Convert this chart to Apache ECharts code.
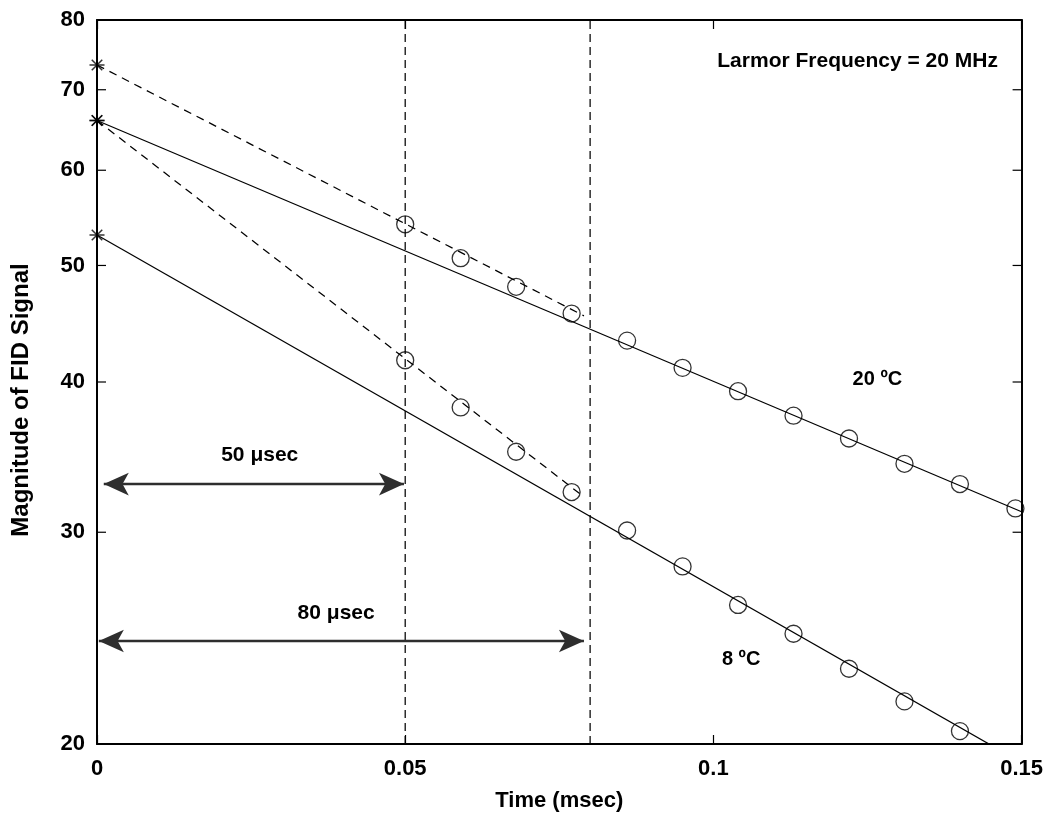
<!DOCTYPE html>
<html>
<head>
<meta charset="utf-8">
<title>FID signal decay</title>
<script src="https://cdn.jsdelivr.net/npm/echarts@6/dist/echarts.min.js"></script>
<style>
  html, body { margin: 0; padding: 0; background: #fff; }
  #chart { width: 1046px; height: 818px; }
</style>
</head>
<body>
<div id="chart"></div>
<script>
// Sampled FID magnitudes (time in msec)
const timeMs    = [0.050, 0.059, 0.068, 0.077, 0.086, 0.095, 0.104, 0.113, 0.122, 0.131, 0.140, 0.149];
const signal20C = [54.1, 50.7, 48.0, 45.6, 43.3, 41.1, 39.3, 37.5, 35.9, 34.2, 32.9, 31.4];
const signal8C  = [41.7, 38.1, 35.0, 32.4, 30.1, 28.1, 26.1, 24.7, 23.1, 21.7, 20.5];

// Exponential fits (straight on the log axis), [time, magnitude] end points
const fit20Solid  = [[0, 66.0], [0.15, 31.2]];
const fit20Dashed = [[0, 73.4], [0.079, 45.4]];
const fit8Solid   = [[0, 53.0], [0.15, 19.3]];
const fit8Dashed  = [[0, 66.0], [0.079, 32.1]];

// Extrapolated values at t = 0
const intercepts = [[0, 73.4], [0, 66.0], [0, 66.0], [0, 53.0]];

// Dead-time markers (msec)
const deadTimes = [0.05, 0.08];

// Axis ticks
const yTicks = [20, 30, 40, 50, 60, 70, 80];

// Dead-time spans drawn as double arrows (tip to tip): [from, to, magnitude level]
const span50 = [0.0011, 0.0498, 32.9];
const span80 = [0.0003, 0.0790, 24.36];

// Text annotations: [text, time, magnitude, font size]
const notes = [
  ['Larmor Frequency = 20 MHz', 0.1234, 74.0, 21],
  ['20 \u00baC', 0.1266, 40.2, 20],
  ['8 \u00baC', 0.1045, 23.5, 20],
  ['50 \u03bcsec', 0.0264, 34.8, 21],
  ['80 \u03bcsec', 0.0388, 25.7, 21]
];

const FONT = '"Liberation Sans", Arial, Helvetica, sans-serif';
const BLACK = '#000';

const chart = echarts.init(document.getElementById('chart'), null, { renderer: 'canvas' });

const lineSeries = (data, type) => ({
  type: 'line',
  data: data,
  showSymbol: false,
  silent: true,
  clip: true,
  lineStyle: { color: BLACK, width: 1.25, type: type },
  z: 2
});

const axisLine = { show: true, onZero: false, lineStyle: { color: BLACK, width: 2 } };
const xTick = { show: true, inside: true, length: 9, lineStyle: { color: BLACK, width: 1.2 } };

const arrowPair = (s) => [{ coord: [s[0], s[2]] }, { coord: [s[1], s[2]] }];

chart.setOption({
  animation: false,
  backgroundColor: '#fff',
  grid: { left: 97, right: 22, top: 20, bottom: 74, containLabel: false },
  xAxis: [
    {
      type: 'value', position: 'bottom', min: 0, max: 0.15, interval: 0.05,
      axisLine: axisLine, axisTick: xTick, splitLine: { show: false },
      axisLabel: {
        color: BLACK, fontSize: 22, fontWeight: 'bold', fontFamily: FONT, margin: 14,
        showMinLabel: true, showMaxLabel: true
      },
      name: 'Time (msec)', nameLocation: 'middle', nameGap: 46,
      nameTextStyle: { color: BLACK, fontSize: 22, fontWeight: 'bold', fontFamily: FONT }
    },
    {
      type: 'value', position: 'top', min: 0, max: 0.15, interval: 0.05,
      axisLine: axisLine, axisTick: xTick, splitLine: { show: false },
      axisLabel: { show: false }
    }
  ],
  yAxis: [
    {
      type: 'log', logBase: 10, position: 'left', min: 20, max: 80,
      axisLine: axisLine, axisTick: { show: false }, axisLabel: { show: false },
      splitLine: { show: false }, minorTick: { show: false }
    },
    {
      type: 'log', logBase: 10, position: 'right', min: 20, max: 80,
      axisLine: axisLine, axisTick: { show: false }, axisLabel: { show: false },
      splitLine: { show: false }, minorTick: { show: false }
    }
  ],
  series: [
    lineSeries(fit20Solid, 'solid'),
    lineSeries(fit8Solid, 'solid'),
    lineSeries(fit20Dashed, [8, 6]),
    lineSeries(fit8Dashed, [8, 6]),
    lineSeries([[deadTimes[0], 20], [deadTimes[0], 80]], [8, 5]),
    Object.assign(lineSeries([[deadTimes[1], 20], [deadTimes[1], 80]], [8, 5]), {
      markLine: {
        silent: true,
        symbol: ['arrow', 'arrow'],
        symbolSize: [17, 25],
        label: { show: false },
        lineStyle: { color: '#2e2e2e', width: 2.4, type: 'solid' },
        emphasis: { disabled: true },
        data: [arrowPair(span50), arrowPair(span80)]
      }
    }),
    {
      type: 'scatter',
      data: timeMs.map((t, i) => [t, signal20C[i]]),
      symbol: 'circle', symbolSize: 17, silent: true,
      itemStyle: { color: 'transparent', borderColor: BLACK, borderWidth: 1.3 },
      z: 4
    },
    {
      type: 'scatter',
      data: signal8C.map((v, i) => [timeMs[i], v]),
      symbol: 'circle', symbolSize: 17, silent: true,
      itemStyle: { color: 'transparent', borderColor: BLACK, borderWidth: 1.3 },
      z: 4
    },
    {
      type: 'scatter',
      data: intercepts,
      symbol: 'path://M10,0L10,20M0,10L20,10M3,3L17,17M3,17L17,3',
      symbolSize: 15, silent: true, clip: false,
      itemStyle: { color: 'transparent', borderColor: BLACK, borderWidth: 1.5 },
      z: 5
    }
  ]
});

// Log-axis ticks and labels placed through the axis scale
const xL = chart.convertToPixel({ xAxisIndex: 0 }, 0);
const xR = chart.convertToPixel({ xAxisIndex: 0 }, 0.15);
const graphics = [];
yTicks.forEach((v) => {
  const py = chart.convertToPixel({ yAxisIndex: 0 }, v);
  graphics.push({
    type: 'line', silent: true, z: 10,
    shape: { x1: xL, y1: py, x2: xL + 9, y2: py },
    style: { stroke: BLACK, lineWidth: 1.2 }
  });
  graphics.push({
    type: 'line', silent: true, z: 10,
    shape: { x1: xR - 9, y1: py, x2: xR, y2: py },
    style: { stroke: BLACK, lineWidth: 1.2 }
  });
  graphics.push({
    type: 'text', silent: true, z: 10, x: xL - 12, y: py,
    style: {
      text: String(v), fill: BLACK, align: 'right', verticalAlign: 'middle',
      font: 'bold 22px ' + FONT
    }
  });
});

notes.forEach(([text, t, v, size]) => {
  const p = chart.convertToPixel({ xAxisIndex: 0, yAxisIndex: 0 }, [t, v]);
  graphics.push({
    type: 'text', silent: true, z: 10, x: p[0], y: p[1],
    style: {
      text: text, fill: BLACK, align: 'center', verticalAlign: 'middle',
      font: 'bold ' + size + 'px ' + FONT
    }
  });
});

// Vertical axis title
graphics.push({
  type: 'text', silent: true, z: 10, x: 21, y: 400, rotation: Math.PI / 2,
  style: {
    text: 'Magnitude of FID Signal', fill: BLACK, align: 'center', verticalAlign: 'middle',
    font: 'bold 24px ' + FONT
  }
});

chart.setOption({ graphic: graphics });
</script>
</body>
</html>
